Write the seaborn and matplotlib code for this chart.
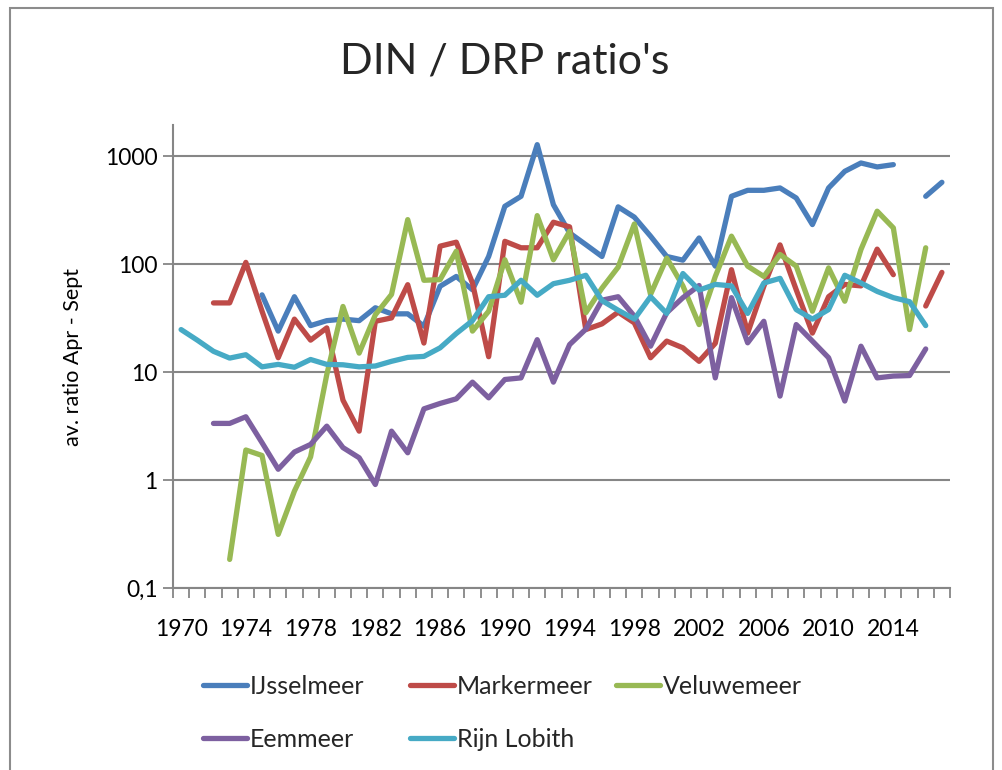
import numpy as np
import pandas as pd
import matplotlib
matplotlib.use("Agg")
import matplotlib.pyplot as plt
import seaborn as sns
from matplotlib.patches import Rectangle
from matplotlib.lines import Line2D

nan = np.nan
years = list(range(1970, 2018))

ijsselmeer = [nan, nan, nan, nan, nan,
              52, 24, 50, 27, 30, 31, 30,
              39.5, 34.7, 34.7, 26.7, 62.5, 77, 58, 118, 344, 426, 1282, 356,
              195, 152, 118, 340, 273, 182, 118, 109, 175, 96, 426, 484,
              484, 509, 411, 233, 509, 726, 867, 797, 837, nan, 426, 574]
markermeer = [nan, nan,
              43.8, 43.8, 104, 36.7, 13.6, 31, 19.8, 25.7, 5.5, 2.84,
              29.6, 31.8, 64.6, 18.6, 147, 160, 67, 13.9, 163, 142, 142, 245,
              222, 24.8, 28, 36, 28.6, 13.6, 19.4, 16.8, 12.6, 18.5, 89, 23,
              62.5, 151, 58, 23, 50, 65, 63, 138, 80, nan, 41, 84]
veluwemeer = [nan, nan, nan,
              0.184, 1.9, 1.69, 0.314, 0.79, 1.64, 9.5, 40.6, 15,
              34, 52.5, 259, 71, 72, 132, 24, 36.7, 110, 44.5, 282, 110,
              202, 35.5, 60, 94, 236, 52.5, 114, 63, 27.6, 77, 182, 96,
              77, 123, 96, 36.7, 92.5, 45.4, 137, 310, 217, 24.8, 142, nan]
eemmeer = [nan, nan,
           3.35, 3.35, 3.86, 2.22, 1.26, 1.82, 2.14, 3.16, 2.0, 1.61,
           0.91, 2.84, 1.79, 4.57, 5.13, 5.66, 8.08, 5.78, 8.55, 8.85, 20, 8.08,
           18, 25, 46.4, 50, 33, 17.4, 35.5, 49, 63.5, 8.85, 49, 18.7,
           29.6, 6.0, 27.6, 19.4, 13.6, 5.4, 17.4, 8.85, 9.2, 9.3, 16.4, nan]
rijn_lobith = [24.8, 19.8, 15.6, 13.5, 14.5, 11.2, 11.8, 11.1, 13.1, 11.8, 11.7, 11.2,
               11.4, 12.6, 13.7, 14, 16.8, 22.8, 30, 50, 51.6, 71, 51.6, 66,
               71, 79, 46, 37.5, 31, 50, 35, 82, 57.6, 65, 63, 35,
               67, 74, 38, 31, 38, 79, 67, 56, 49, 45, 27, nan]

series_names = ["IJsselmeer", "Markermeer", "Veluwemeer", "Eemmeer", "Rijn Lobith"]
series_values = [ijsselmeer, markermeer, veluwemeer, eemmeer, rijn_lobith]
colors = ["#4A7EBB", "#BE4B48", "#98B954", "#7D60A0", "#46AAC5"]
tick_years = list(range(1970, 2015, 4))
ytick_vals = [0.1, 1, 10, 100, 1000]
ytick_labels = ["0,1", "1", "10", "100", "1000"]

# long-form data with segment ids so gaps (missing years) stay visible
frames = []
for name, vals in zip(series_names, series_values):
    v = pd.Series(vals, dtype=float)
    seg = v.isna().cumsum()
    frames.append(pd.DataFrame({"year": years, "value": v, "lake": name,
                                "seg": [f"{name}_{s}" for s in seg]}))
df = pd.concat(frames, ignore_index=True).dropna(subset=["value"])

sns.set_theme(style="white")
plt.rcParams["font.family"] = ["Lato", "DejaVu Sans"]

W, H = 1002, 770
fig = plt.figure(figsize=(W / 100, H / 100), dpi=100)
ax = fig.add_axes([173 / W, 1 - 588 / H, (950 - 173) / W, (588 - 125) / H])

sns.lineplot(data=df, x="year", y="value", hue="lake", units="seg",
             estimator=None, hue_order=series_names,
             palette=dict(zip(series_names, colors)), linewidth=3.8,
             legend=False, ax=ax, sort=True)

ax.set_yscale("log")
ax.set_ylim(0.1, 10 ** 3.29)
ax.set_xlim(1969.5, 2017.5)

gridc = "#868686"
ax.set_yticks(ytick_vals)
ax.set_yticklabels(ytick_labels)
ax.yaxis.set_minor_locator(matplotlib.ticker.NullLocator())
ax.grid(axis="y", color=gridc, linewidth=1.5)
ax.grid(axis="x", visible=False)
ax.set_axisbelow(True)

ax.set_xticks(tick_years)
ax.set_xticklabels([str(y) for y in tick_years])
ax.set_xticks([y - 0.5 for y in range(1970, 2019)], minor=True)
ax.tick_params(axis="x", which="major", length=0, pad=22, labelsize=16.5, colors="black")
ax.tick_params(axis="x", which="minor", length=7, width=1.3, color=gridc, direction="out", bottom=True)
ax.tick_params(axis="y", which="major", length=7, width=1.3, color=gridc, direction="out",
               left=True, labelsize=16.5, pad=4)
for lab in ax.get_xticklabels() + ax.get_yticklabels():
    lab.set_color("black")

for s in ["top", "right"]:
    ax.spines[s].set_visible(False)
for s in ["left", "bottom"]:
    ax.spines[s].set_color(gridc)
    ax.spines[s].set_linewidth(1.5)

ax.set_xlabel("")
ax.set_ylabel("av. ratio Apr - Sept", fontsize=15.5, labelpad=16, color="black")

fig.text(505 / W, 1 - 62 / H, "DIN / DRP ratio's", ha="center", va="center", fontsize=31)

# legend: three columns placed like the original (row-wise order)
handles = [Line2D([0], [0], color=c, lw=3.8, solid_capstyle="round") for c in colors]
columns = [([0, 3], 203), ([1, 4], 410), ([2], 616)]
for idx, xpix in columns:
    fig.legend([handles[i] for i in idx], [series_names[i] for i in idx],
               ncol=1, loc="upper left", bbox_to_anchor=(xpix / W, 1 - 675 / H),
               frameon=False, fontsize=18, handlelength=1.75, handletextpad=0.12,
               labelspacing=1.2, borderaxespad=0, borderpad=0)

fig.patches.append(Rectangle((10 / W, -0.01), (993 - 10) / W, 1.01 - 8 / H,
                             transform=fig.transFigure, fill=False,
                             edgecolor="#8c8c8c", linewidth=1.5))

fig.savefig("out.png", dpi=100)
